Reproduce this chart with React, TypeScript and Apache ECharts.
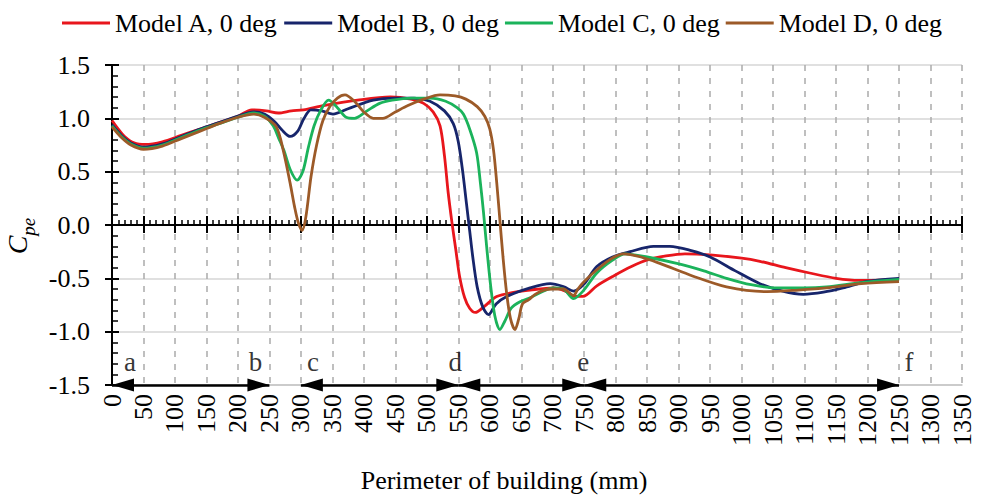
import React, { useEffect, useRef } from "react";
import * as echarts from "echarts";

const seriesNames = ["Model A, 0 deg", "Model B, 0 deg", "Model C, 0 deg", "Model D, 0 deg"];
const seriesColors = ["#e8161c", "#17256b", "#1bb35b", "#9c5a28"];

const modelA: [number, number][] = [
  [0, 0.98], [10, 0.9], [20, 0.83], [35, 0.77], [53, 0.755], [80, 0.78], [110, 0.84], [140, 0.9],
  [170, 0.96], [200, 1.02], [222, 1.08], [245, 1.07], [264, 1.05], [285, 1.07], [304, 1.08], [336, 1.12],
  [390, 1.17], [442, 1.2], [475, 1.18], [495, 1.14], [510, 1.06], [521, 0.93], [528, 0.65], [534, 0.3],
  [540, 0.02], [546, -0.23], [552, -0.48], [560, -0.68], [568, -0.78], [577, -0.82], [592, -0.76],
  [611, -0.67], [640, -0.63], [664, -0.61], [701, -0.59], [720, -0.62], [735, -0.67], [748, -0.67],
  [770, -0.57], [796, -0.48], [825, -0.39], [849, -0.33], [880, -0.29], [910, -0.27], [950, -0.28],
  [1000, -0.31], [1029, -0.34], [1070, -0.4], [1108, -0.45], [1150, -0.5], [1187, -0.52], [1250, -0.51]
];

const modelB: [number, number][] = [
  [0, 0.94], [15, 0.84], [30, 0.77], [50, 0.73], [80, 0.76], [110, 0.83], [140, 0.9], [170, 0.96],
  [200, 1.02], [225, 1.06], [242, 1.04], [258, 0.97], [270, 0.89], [283, 0.83], [295, 0.88], [305, 1.0],
  [316, 1.08], [333, 1.07], [351, 1.04], [375, 1.09], [415, 1.17], [450, 1.19], [480, 1.19], [505, 1.16],
  [528, 1.07], [542, 0.95], [550, 0.78], [557, 0.5], [563, 0.2], [568, -0.05], [573, -0.3], [580, -0.58],
  [589, -0.77], [598, -0.84], [610, -0.74], [627, -0.67], [664, -0.59], [696, -0.55], [718, -0.58],
  [733, -0.62], [750, -0.55], [770, -0.39], [795, -0.3], [823, -0.25], [860, -0.2], [886, -0.2],
  [920, -0.24], [950, -0.3], [990, -0.43], [1029, -0.55], [1065, -0.62], [1098, -0.65], [1130, -0.63],
  [1161, -0.59], [1198, -0.53], [1250, -0.5]
];

const modelC: [number, number][] = [
  [0, 0.93], [15, 0.83], [30, 0.76], [50, 0.72], [80, 0.75], [110, 0.82], [140, 0.89], [170, 0.95],
  [200, 1.01], [225, 1.05], [242, 1.02], [256, 0.93], [265, 0.81], [273, 0.7], [283, 0.52], [294, 0.42],
  [303, 0.5], [312, 0.73], [321, 0.93], [331, 1.07], [344, 1.17], [358, 1.1], [372, 1.01], [385, 1.0],
  [405, 1.07], [425, 1.14], [445, 1.17], [475, 1.19], [505, 1.19], [530, 1.16], [548, 1.1], [558, 1.04],
  [568, 0.9], [579, 0.68], [585, 0.4], [590, 0.12], [595, -0.2], [601, -0.55], [608, -0.85], [616, -0.98],
  [624, -0.9], [634, -0.78], [648, -0.72], [665, -0.68], [685, -0.62], [701, -0.59], [717, -0.6],
  [733, -0.69], [748, -0.62], [770, -0.45], [795, -0.33], [815, -0.27], [850, -0.3], [897, -0.36],
  [940, -0.43], [976, -0.5], [1015, -0.56], [1055, -0.59], [1100, -0.59], [1135, -0.58], [1190, -0.54],
  [1250, -0.51]
];

const modelD: [number, number][] = [
  [0, 0.92], [15, 0.82], [30, 0.75], [50, 0.71], [80, 0.74], [110, 0.81], [140, 0.88], [170, 0.95],
  [200, 1.01], [225, 1.04], [242, 1.01], [261, 0.92], [272, 0.7], [283, 0.39], [290, 0.17], [296, 0.02],
  [302, -0.05], [308, 0.08], [316, 0.45], [325, 0.75], [335, 0.98], [346, 1.11], [358, 1.19], [370, 1.22],
  [385, 1.16], [400, 1.06], [415, 1.0], [430, 1.0], [450, 1.06], [470, 1.12], [495, 1.18], [521, 1.22],
  [545, 1.21], [562, 1.18], [580, 1.11], [592, 1.02], [600, 0.9], [606, 0.7], [611, 0.4], [616, 0.05],
  [621, -0.3], [627, -0.65], [633, -0.88], [640, -0.98], [646, -0.88], [652, -0.74], [662, -0.7],
  [672, -0.65], [686, -0.61], [700, -0.6], [717, -0.6], [733, -0.66], [740, -0.6], [750, -0.53],
  [770, -0.42], [792, -0.32], [812, -0.27], [840, -0.3], [870, -0.36], [923, -0.48], [976, -0.58],
  [1040, -0.625], [1090, -0.61], [1135, -0.59], [1190, -0.55], [1250, -0.53]
];

const seriesData = [modelA, modelB, modelC, modelD];

const segmentMarks = [0, 250, 300, 550, 750, 1250];
const segmentLetters = ["a", "b", "c", "d", "e", "f"];
const arrowSegments: [number, number][] = [[0, 250], [300, 550], [550, 750], [750, 1250]];

const yTickFormat = (v: number) => v.toFixed(1);
const xTickFormat = (v: number) => String(v);

export default function App() {
  const ref = useRef<HTMLDivElement>(null);

  useEffect(() => {
    if (!ref.current) return;
    const chart = echarts.init(ref.current, null, { renderer: "svg" });
    const FONT = "Liberation Serif";
    const rect = { left: 112, right: 21, top: 65, bottom: 115, containLabel: false, outerBoundsMode: "none" };
    const letterDx = [18, -14, 12, -3, -1, 10];
    const yRange = { min: -1.5, max: 1.5, interval: 0.5 };
    const xRange = { min: 0, max: 1350, interval: 50 };

    const option: any = {
      animation: false,
      backgroundColor: "#ffffff",
      legend: {
        data: seriesNames,
        left: 57,
        top: 5,
        icon: "rect",
        itemWidth: 48,
        itemHeight: 3,
        itemGap: 6,
        textStyle: { fontFamily: FONT, fontSize: 26, color: "#000" }
      },
      grid: [{ ...rect }, { ...rect }, { ...rect }],
      xAxis: [
        {
          gridIndex: 0, type: "value", ...xRange, position: "bottom",
          axisLine: { show: true, onZero: false, lineStyle: { color: "#c4c4c4", width: 1.5 } },
          axisTick: { show: false },
          axisLabel: { rotate: 90, margin: 9, fontSize: 26, fontFamily: FONT, color: "#000", formatter: xTickFormat },
          splitLine: { show: true, lineStyle: { type: [6, 7], color: "#ababab", width: 1.5 } },
          name: "Perimeter of building (mm)",
          nameLocation: "middle",
          nameGap: 82,
          nameTextStyle: { fontSize: 26, fontFamily: FONT, color: "#000", padding: [0, 66, 0, 0] }
        },
        {
          gridIndex: 1, type: "value", ...xRange,
          axisLine: { show: true, onZero: true, lineStyle: { color: "#000", width: 2 } },
          axisTick: { show: true, inside: true, length: 9, lineStyle: { color: "#000", width: 2 } },
          minorTick: { show: true, splitNumber: 5, length: 5, lineStyle: { color: "#000", width: 1.5 } },
          axisLabel: { show: false },
          splitLine: { show: false }
        },
        {
          gridIndex: 2, type: "value", ...xRange,
          axisLine: { show: true, onZero: true, lineStyle: { color: "#000", width: 2 } },
          axisTick: { show: true, inside: false, length: 8, lineStyle: { color: "#000", width: 2 } },
          axisLabel: { show: false },
          splitLine: { show: false }
        }
      ],
      yAxis: [
        {
          gridIndex: 0, type: "value", ...yRange,
          axisLine: { show: true, onZero: false, lineStyle: { color: "#000", width: 2 } },
          axisTick: { show: true, length: 7, lineStyle: { color: "#000", width: 2 } },
          axisLabel: { formatter: yTickFormat, fontSize: 26, fontFamily: FONT, color: "#000", margin: 22 },
          splitLine: { show: true, lineStyle: { color: "#d6d6d6", width: 1.5 } },
          name: "{c|C}{s|pe}",
          nameLocation: "middle",
          nameGap: 70,
          nameRotate: 90,
          nameTextStyle: {
            fontFamily: FONT,
            color: "#000",
            padding: [0, 22, 0, 0],
            rich: {
              c: { fontFamily: FONT, fontSize: 28, fontStyle: "italic", lineHeight: 30, verticalAlign: "top", color: "#000" },
              s: { fontFamily: FONT, fontSize: 19, fontStyle: "italic", lineHeight: 20, padding: [15, 0, 0, 0], verticalAlign: "top", color: "#000" }
            }
          }
        },
        {
          gridIndex: 1, type: "value", ...yRange,
          axisLine: { show: true, onZero: false, lineStyle: { color: "#000", width: 2 } },
          axisTick: { show: true, inside: true, length: 7, lineStyle: { color: "#000", width: 2 } },
          minorTick: { show: true, splitNumber: 5, length: 6, lineStyle: { color: "#000", width: 1.5 } },
          axisLabel: { show: false },
          splitLine: { show: false }
        },
        {
          gridIndex: 2, type: "value", ...yRange,
          axisLine: { show: false, onZero: false },
          axisTick: { show: false },
          axisLabel: { show: false },
          splitLine: { show: false }
        }
      ],
      series: [
        ...seriesNames.map((name, i) => ({
          type: "line",
          name,
          xAxisIndex: 0,
          yAxisIndex: 0,
          data: seriesData[i],
          showSymbol: false,
          symbol: "none",
          smooth: 0.3,
          lineStyle: { color: seriesColors[i], width: 2.8 },
          itemStyle: { color: seriesColors[i] },
          z: 3 + i
        })),
        {
          type: "line",
          name: "segments",
          xAxisIndex: 0,
          yAxisIndex: 0,
          data: [],
          z: 8,
          markLine: {
            silent: true,
            animation: false,
            symbol: ["triangle", "triangle"],
            symbolSize: [13, 22],
            symbolOffset: [[0, "50%"], [0, "50%"]],
            label: { show: false },
            lineStyle: { color: "#000", width: 2.5, type: "solid" },
            emphasis: { disabled: true },
            data: arrowSegments.map(([a, b]) => [
              { coord: [a, yRange.min] },
              { coord: [b, yRange.min] }
            ])
          }
        },
        {
          type: "scatter",
          name: "letters",
          xAxisIndex: 0,
          yAxisIndex: 0,
          symbolSize: 1,
          itemStyle: { color: "rgba(0,0,0,0)" },
          silent: true,
          z: 9,
          data: segmentMarks.map((x, i) => ({
            name: segmentLetters[i],
            value: [x, yRange.min],
            label: { offset: [letterDx[i], -23] }
          })),
          label: {
            show: true,
            position: "inside",
            formatter: "{b}",
            fontFamily: FONT,
            fontSize: 27,
            color: "#000"
          }
        }
      ]
    };

    chart.setOption(option);
    return () => chart.dispose();
  }, []);

  return (
    <div
      ref={ref}
      style={{ position: "fixed", left: 0, top: 0, width: 983, height: 500, background: "#fff" }}
    />
  );
}
